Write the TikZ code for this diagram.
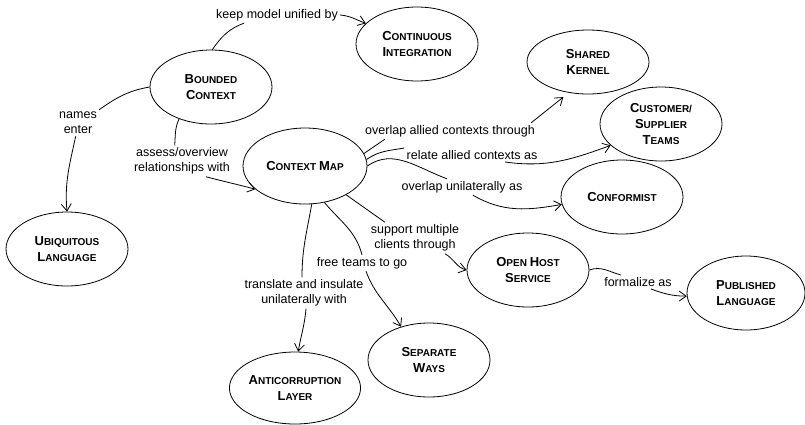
\documentclass[tikz,border=0pt]{standalone}
\usepackage{fontspec}
\setmainfont{Liberation Sans}
\usetikzlibrary{shapes.geometric, arrows.meta}
\newcommand{\ini}[1]{{\fontsize{13}{16}\selectfont #1}}

\begin{document}
\begin{tikzpicture}
	[x=1pt, y=1pt, line width=0.8pt, >={Straight Barb[length=7pt,width=10pt]},
	 pat/.style={ellipse, draw, inner sep=0pt, align=center, minimum width=122pt, minimum height=74pt,
	             font=\fontsize{10}{16}\selectfont\bfseries},
	 lbl/.style={inner sep=2pt, align=center, font=\fontsize{12.5}{15}\selectfont}]
   \useasboundingbox (0,0) rectangle (805,-424);
   \node[pat] (bc) at (211,-87) {\ini{B}OUNDED\\\ini{C}ONTEXT};
   \node[pat] (ci) at (417,-44) {\ini{C}ONTINUOUS\\\ini{I}NTEGRATION};
   \node[pat, minimum height=64pt] (sk) at (588,-62) {\ini{S}HARED\\\ini{K}ERNEL};
   \node[pat] (cst) at (661,-124) {\ini{C}USTOMER/\\\ini{S}UPPLIER\\\ini{T}EAMS};
   \node[pat] (conf) at (622,-197) {\ini{C}ONFORMIST};
   \node[pat, minimum width=124pt, minimum height=76pt] (cm) at (305,-166) {\ini{C}ONTEXT \ini{M}AP};
   \node[pat] (ul) at (67,-249) {\ini{U}BIQUITOUS\\\ini{L}ANGUAGE};
   \node[pat, minimum width=128pt, minimum height=72pt] (acl) at (295,-388) {\ini{A}NTICORRUPTION\\\ini{L}AYER};
   \node[pat] (sw) at (429,-360) {\ini{S}EPARATE\\\ini{W}AYS};
   \node[pat] (ohs) at (528,-270) {\ini{O}PEN \ini{H}OST\\\ini{S}ERVICE};
   \node[pat, minimum width=118pt] (pl) at (746,-293) {\ini{P}UBLISHED\\\ini{L}ANGUAGE};

   \node[lbl] (l_keep) at (277,-15) {keep model unified by};
   \node[lbl] (l_names) at (78,-123) {names\\enter};
   \node[lbl] (l_assess) at (182,-161) {assess/overview\\relationships with};
   \node[lbl] (l_overlap) at (450,-131) {overlap allied contexts through};
   \node[lbl] (l_relate) at (472,-155) {relate allied contexts as};
   \node[lbl] (l_unilat) at (462,-187) {overlap unilaterally as};
   \node[lbl] (l_support) at (415,-238) {support multiple\\clients through};
   \node[lbl] (l_free) at (362,-263) {free teams to go};
   \node[lbl] (l_translate) at (304,-293) {translate and insulate\\unilaterally with};
   \node[lbl] (l_formal) at (638,-282) {formalize as};

    \path
    (bc.88) edge [out=55, in=200] (l_keep.194)
    (bc.west) edge [out=190, in=35] (l_names.north east)
    (bc.225) edge [out=245, in=85] (l_assess.115)
    (cm.12) edge ([xshift=22pt]l_overlap.south west)
    (cm.6) edge [out=35, in=190] (l_relate.north west)
    (cm.0) edge [out=35, in=160] ([xshift=-15pt]l_unilat.north)
    (cm.325) edge ([xshift=-30pt]l_support.north)
    (cm.298) edge [out=-50, in=105] (l_free.north)
    (cm.280) edge [out=260, in=90] ([xshift=-2pt]l_translate.north)
    (ohs.east) edge [out=20, in=165] ([xshift=-17pt]l_formal.north);
    \path[->]
    (l_keep.east) edge [out=-5, in=160] (ci.158)
    (l_names.260) edge [out=258, in=95] (ul.north)
    ([xshift=24pt]l_assess.south) edge [out=-15, in=165] (cm.205)
    ([xshift=-6pt]l_overlap.north east) edge [shorten >=7pt] (sk.238)
    ([xshift=33pt]l_relate.south) edge [out=-8, in=200] (cst.203)
    ([xshift=11pt]l_unilat.south) edge [out=-30, in=190] (conf.187)
    ([xshift=30pt]l_support.south) edge [out=-30, in=165] (ohs.west)
    ([xshift=4pt]l_free.south) edge [out=-70, in=120] (sw.130)
    ([xshift=2pt]l_translate.south) edge [out=265, in=80] (acl.85)
    ([xshift=13pt]l_formal.south) edge [out=-20, in=180] (pl.183);
\end{tikzpicture}
\end{document}
